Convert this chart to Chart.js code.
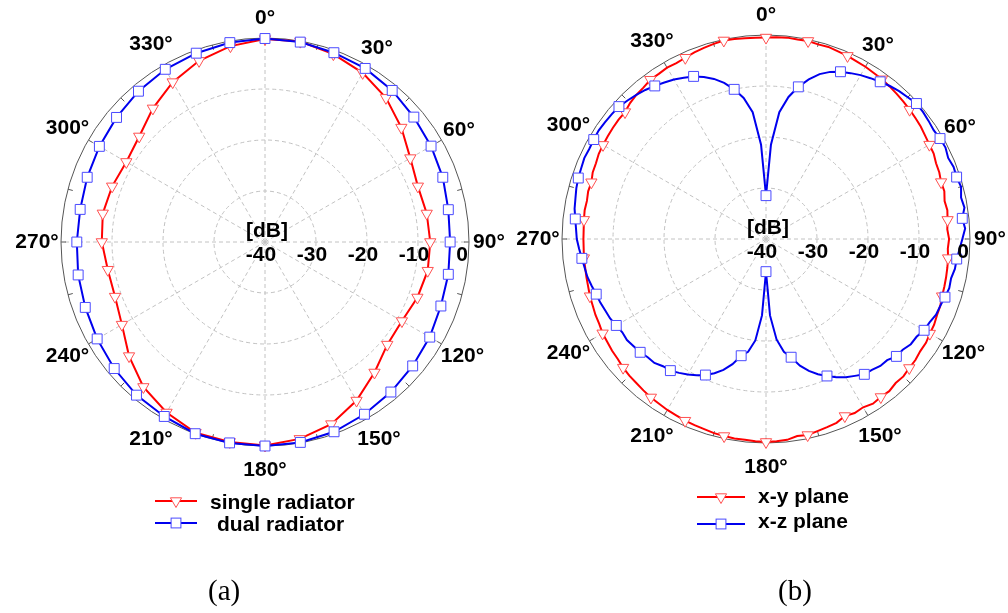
<!DOCTYPE html>
<html>
<head>
<meta charset="utf-8">
<script src="https://cdn.jsdelivr.net/npm/chart.js@4/dist/chart.umd.min.js"></script>
<style>
  html, body { margin:0; padding:0; background:#fff; }
  #page { position:relative; width:1008px; height:613px; overflow:hidden; background:#fff; }
  canvas { position:absolute; left:0; top:0; }
  .lg { position:absolute; font:bold 21px "Liberation Sans", Arial, sans-serif; line-height:24px; color:#000; white-space:nowrap; }
  .cap { position:absolute; font:29px "Liberation Serif", "Times New Roman", serif; line-height:34px; color:#000; }
  svg { position:absolute; left:0; top:0; }
</style>
</head>
<body>
<div id="page">
  <canvas id="ca" width="1008" height="613"></canvas>
  <canvas id="cb" width="1008" height="613"></canvas>
  <svg width="1008" height="613" id="lgsvg"></svg>
  <div class="lg" style="left:210px;top:490px;">single radiator</div>
  <div class="lg" style="left:217px;top:512px;">dual radiator</div>
  <div class="lg" style="left:758px;top:484px;">x-y plane</div>
  <div class="lg" style="left:758px;top:509px;">x-z plane</div>
  <div class="cap" style="left:208px;top:573px;">(a)</div>
  <div class="cap" style="left:778px;top:573px;">(b)</div>
</div>
<script>
// ---------- data ----------
const anglesA = [0,10,20,30,40,50,60,70,80,90,100,110,120,130,140,150,160,170,
                 180,190,200,210,220,230,240,250,260,270,280,290,300,310,320,330,340,350];
const singleRadiator = [-0.2,-0.1,-0.8,-1.7,-3.1,-5.1,-7.1,-8.1,-7.8,-7.6,-7.6,-8.2,-9.0,-8.7,-6.6,-4.1,-2.0,-0.8,
                        -0.1,-0.2,-0.2,-1.4,-2.9,-5.2,-7.6,-8.7,-8.7,-8.0,-7.7,-8.1,-8.6,-7.8,-5.8,-3.8,-2.2,-1.0];
const dualRadiator   = [-0.1,-0.2,-0.5,-0.7,-1.2,-1.9,-2.4,-2.9,-3.5,-3.7,-3.5,-3.3,-2.7,-2.2,-1.6,-1.0,-0.4,-0.1,
                        0,0,0,-0.5,-0.8,-1.4,-2.0,-2.5,-2.8,-3.1,-3.2,-2.9,-2.5,-2.0,-1.4,-0.9,-0.6,-0.3];

const anglesB = [0,3,6,9,12,15,18,21,24,27,30,33,36,39,42,45,48,51,54,57,
                 60,63,66,69,72,75,78,81,84,87,90,93,96,99,102,105,108,111,114,117,
                 120,123,126,129,132,135,138,141,144,147,150,153,156,159,162,165,168,171,174,177,
                 180,183,186,189,192,195,198,201,204,207,210,213,216,219,222,225,228,231,234,237,
                 240,243,246,249,252,255,258,261,264,267,270,273,276,279,282,285,288,291,294,297,
                 300,303,306,309,312,315,318,321,324,327,330,333,336,339,342,345,348,351,354,357];
const xyPlane = [-0.5,-0.4,-0.3,-0.4,-0.3,-0.5,-0.4,-0.6,-0.7,-0.9,-1.0,-1.2,-1.3,-1.5,-1.7,-1.9,-2.1,-2.3,-2.5,-2.8,
                 -3.0,-3.1,-3.5,-3.6,-3.9,-3.8,-4.2,-4.0,-4.2,-4.4,-4.1,-4.3,-4.1,-4.0,-3.9,-3.8,-3.7,-3.4,-3.3,-3.0,
                 -2.9,-2.6,-2.6,-2.3,-2.2,-1.9,-2.0,-1.6,-1.7,-1.5,-1.9,-1.7,-2.0,-1.4,-1.2,-1.0,-0.7,-0.9,-0.4,-0.3,
                 -0.2,-0.3,-0.4,-0.4,-0.5,-0.6,-0.8,-0.9,-1.0,-1.2,-1.3,-1.5,-1.6,-1.8,-2.0,-2.1,-2.3,-2.6,-2.7,-2.9,
                 -3.0,-3.3,-3.4,-3.6,-3.7,-3.9,-4.0,-4.1,-4.1,-4.2,-4.2,-4.2,-4.1,-4.0,-4.1,-3.9,-4.0,-3.6,-3.5,-3.2,
                 -3.1,-3.0,-2.9,-2.8,-2.8,-2.3,-2.0,-1.8,-1.4,-1.4,-1.2,-1.3,-1.1,-0.8,-0.6,-0.4,-0.2,-0.3,-0.4,-0.5];
const xzPlane = [-31.5,-21.5,-15.0,-11.8,-9.5,-7.6,-6.0,-4.9,-4.1,-3.5,-2.9,-2.4,-1.9,-1.4,-1.0,-0.7,-0.3,-0.4,-0.6,-0.8,
                 -0.6,-0.5,-0.9,-0.6,-0.7,-0.4,-0.9,-0.6,-1.3,-0.9,-1.5,-2.0,-2.4,-2.5,-2.9,-2.8,-3.1,-3.4,-3.5,-4.0,
                 -4.2,-4.8,-4.9,-5.5,-5.6,-6.4,-6.5,-7.0,-7.2,-8.0,-8.7,-9.6,-10.6,-11.6,-12.8,-14.3,-16.3,-17.6,-20.2,-25.0,
                 -33.6,-25.0,-20.0,-17.6,-16.6,-14.6,-13.0,-11.8,-10.8,-10.0,-9.3,-8.7,-8.1,-7.9,-7.3,-7.2,-6.8,-6.6,-6.3,-6.4,
                 -6.1,-5.7,-5.5,-5.2,-5.0,-4.6,-4.2,-4.0,-3.7,-3.3,-2.9,-2.7,-2.4,-2.0,-1.8,-1.5,-1.3,-1.2,-1.0,-1.1,
                 -1.0,-0.9,-1.0,-1.1,-1.2,-1.6,-2.0,-2.4,-2.9,-3.4,-3.9,-4.5,-5.1,-6.0,-7.0,-8.3,-10.0,-12.0,-15.0,-21.5];

const angleTickLabels = [0,30,60,90,120,150,180,210,240,270,300,330];
const dbTicks = [-40,-30,-20,-10,0];

// ---------- styles ----------
const RED = '#ff0000', BLUE = '#0000ee';
const RED_MK = '#ff5050', BLUE_MK = '#4a4aff';
const GRID = '#c2c2c2';
const FONT = 'bold 21px "Liberation Sans", Arial, sans-serif';

const decor = {
  id: 'decor',
  beforeDatasetsDraw(chart) {
    const s = chart.scales.r;
    const ctx = chart.ctx;
    const R = s.drawingArea, cx = s.xCenter, cy = s.yCenter;
    ctx.save();
    ctx.strokeStyle = '#555';
    ctx.lineWidth = 1;
    for (let d = 0; d < 360; d += 15) {
      const a = (d - 90) * Math.PI / 180;
      ctx.beginPath();
      ctx.moveTo(cx + (R - 5) * Math.cos(a), cy + (R - 5) * Math.sin(a));
      ctx.lineTo(cx + R * Math.cos(a), cy + R * Math.sin(a));
      ctx.stroke();
    }
    ctx.restore();
  },
  afterDraw(chart, args, opts) {
    const s = chart.scales.r;
    const ctx = chart.ctx;
    const R = s.drawingArea, cx = s.xCenter, cy = s.yCenter;
    ctx.save();
    ctx.font = FONT;
    ctx.fillStyle = '#000';
    ctx.textAlign = 'center';
    ctx.textBaseline = 'middle';
    angleTickLabels.forEach(d => {
      const idx = opts.labels.indexOf(d);
      const txt = d + '°';
      const dist = R + (txt.length > 3 ? 24 : 20);
      const p = s.getPointPosition(idx, dist);
      ctx.fillText(txt, p.x, p.y);
    });
    dbTicks.forEach(v => {
      const r = s.getDistanceFromCenterForValue(v);
      ctx.fillText(String(v), cx + r - (v === 0 ? 7 : 4), cy + 13);
    });
    ctx.fillText('[dB]', cx + 2, cy - 11);
    ctx.restore();
  }
};

function makeScale(step) {
  return {
    r: {
      min: -40, max: 0,
      ticks: { display: false, stepSize: 10 },
      pointLabels: { display: false },
      grid: { circular: true, lineWidth: 1, color: c => (c.tick && c.tick.value === 0) ? '#555' : GRID },
      border: { dash: c => (c.tick && c.tick.value === 0) ? [] : [4, 3] },
      angleLines: { color: GRID, borderDash: [4, 3], lineWidth: c => (c.index % step === 0) ? 1 : 0 }
    }
  };
}

function makeChart(id, labels, red, blue, names, pad, step, markEvery) {
  return new Chart(document.getElementById(id), {
    type: 'radar',
    data: {
      labels: labels,
      datasets: [
        { label: names[0], data: red, borderColor: RED, borderWidth: 2, fill: false, tension: 0,
          pointStyle: 'triangle', pointRotation: 180,
          pointRadius: c => (c.dataIndex % markEvery === 0) ? 6.5 : 0,
          pointBorderColor: RED_MK, pointBackgroundColor: '#fff', pointBorderWidth: 1, order: 2 },
        { label: names[1], data: blue, borderColor: BLUE, borderWidth: 2, fill: false, tension: 0,
          pointStyle: 'rect',
          pointRadius: c => (c.dataIndex % markEvery === 0) ? 7 : 0,
          pointBorderColor: BLUE_MK, pointBackgroundColor: '#fff', pointBorderWidth: 1, order: 1 }
      ]
    },
    options: {
      responsive: false,
      animation: false,
      layout: { padding: pad },
      plugins: { legend: { display: false }, tooltip: { enabled: false }, decor: { labels: labels } },
      scales: makeScale(step),
      elements: { point: { hoverRadius: 0 } }
    },
    plugins: [decor]
  });
}

makeChart('ca', anglesA, singleRadiator, dualRadiator, ['single radiator', 'dual radiator'],
          { left: 61, top: 38, right: 539, bottom: 167 }, 3, 1);
makeChart('cb', anglesB, xyPlane, xzPlane, ['x-y plane', 'x-z plane'],
          { left: 562, top: 35, right: 38, bottom: 170 }, 10, 4);

// ---------- legend icons ----------
(function () {
  const svg = document.getElementById('lgsvg');
  const NS = 'http://www.w3.org/2000/svg';
  function el(tag, attrs) { const e = document.createElementNS(NS, tag); for (const k in attrs) e.setAttribute(k, attrs[k]); svg.appendChild(e); }
  function item(x0, x1, y, color, mk, kind) {
    el('line', { x1: x0, y1: y, x2: x1, y2: y, stroke: color, 'stroke-width': 2 });
    const xm = (x0 + x1) / 2;
    if (kind === 'tri') {
      el('polygon', { points: `${xm - 5.6},${y - 3.2} ${xm + 5.6},${y - 3.2} ${xm},${y + 6.5}`, fill: '#fff', stroke: mk, 'stroke-width': 1 });
    } else {
      el('rect', { x: xm - 4.9, y: y - 4.9, width: 9.8, height: 9.8, fill: '#fff', stroke: mk, 'stroke-width': 1 });
    }
  }
  item(155, 197, 501, RED, RED_MK, 'tri');
  item(155, 197, 523, BLUE, BLUE_MK, 'rect');
  item(697, 745, 497, RED, RED_MK, 'tri');
  item(697, 745, 524, BLUE, BLUE_MK, 'rect');
})();
</script>
</body>
</html>
